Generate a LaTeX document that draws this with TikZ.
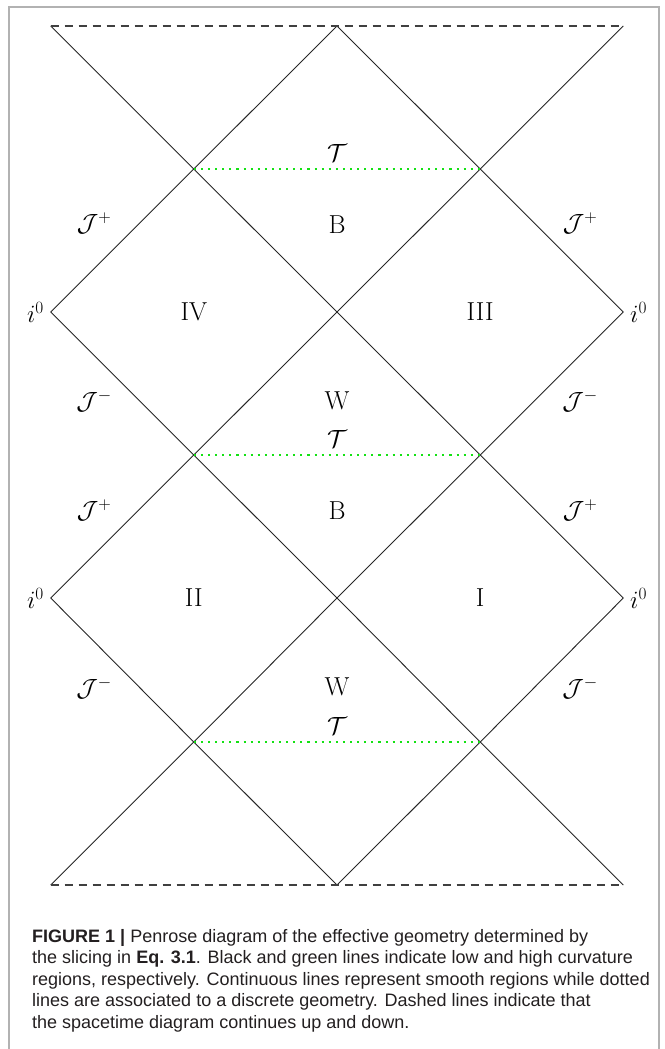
\documentclass[tikz,border=0pt]{standalone}
\usepackage{fontspec}
\newfontfamily\capfont{Liberation Sans}
\usetikzlibrary{positioning, calc}
\definecolor{slicegreen}{RGB}{20,225,20}
\definecolor{framegray}{RGB}{178,178,178}
\definecolor{captext}{RGB}{35,31,32}

\begin{document}
\begin{tikzpicture}[x=1pt, y=-1pt,
  horizon/.style={line width=0.9pt, black!85},
  slice/.style={slicegreen, line width=2.1pt, dash pattern=on 2.1pt off 5pt},
  edge/.style={line width=1.1pt, black!75, dash pattern=on 8pt off 6pt},
  region/.style={font=\fontsize{26}{29}\selectfont},
  scri/.style={font=\fontsize{26}{29}\selectfont}
]
  \useasboundingbox (0,0) rectangle (664,1049);
  \draw[framegray, line width=1.5pt] (9,1049) -- (9,7) -- (659,7) -- (659,1049);

  % vertices of the diagram
  \coordinate (tl) at (50.7,26);   \coordinate (tc) at (337,26);   \coordinate (tr) at (623.3,26);
  \coordinate (s1l) at (193.8,169); \coordinate (s1r) at (480.2,169);
  \coordinate (il1) at (50.7,312); \coordinate (c1) at (337,312); \coordinate (ir1) at (623.3,312);
  \coordinate (s2l) at (193.8,455); \coordinate (s2r) at (480.2,455);
  \coordinate (il2) at (50.7,598); \coordinate (c2) at (337,598); \coordinate (ir2) at (623.3,598);
  \coordinate (s3l) at (193.8,742); \coordinate (s3r) at (480.2,742);
  \coordinate (bl) at (50.7,885);  \coordinate (bc) at (337,885);  \coordinate (br) at (623.3,885);

  % null lines
  \draw[horizon] (tl) -- (s1l) -- (c1) -- (s2r) -- (ir2);
  \draw[horizon] (tr) -- (s1r) -- (c1) -- (s2l) -- (il2);
  \draw[horizon] (il1) -- (s1l) -- (tc) -- (s1r) -- (ir1);
  \draw[horizon] (il1) -- (s2l) -- (c2) -- (s3r) -- (br);
  \draw[horizon] (ir1) -- (s2r) -- (c2) -- (s3l) -- (bl);
  \draw[horizon] (il2) -- (s3l) -- (bc) -- (s3r) -- (ir2);

  % continuation
  \draw[edge] (tl) -- (tc) -- (tr);
  \draw[edge] (bl) -- (bc) -- (br);

  % high curvature slices
  \foreach \k in {1,2,3}{
    \draw[slice] (s\k l) -- (s\k r);
    \node[region] (T\k) at ($(s\k l)!0.5!(s\k r)+(0,-16)$) {$\mathcal{T}$};
  }

  \node[region] (B1) at (337,225) {B};
  \node[region] (W1) at (337,401) {W};
  \node[region] (B2) at (337,511) {B};
  \node[region] (W2) at (337,687) {W};
  \node[region] (r4) at (193.8,312) {IV};
  \node[region] (r3) at (480.2,312) {III};
  \node[region] (r2) at (193.8,598) {II};
  \node[region] (r1) at (480.2,598) {I};

  \foreach \y/\n in {312/1,598/2}{
    \node[scri, anchor=east, inner xsep=0pt] (iL\n) at (44,\y) {$i^0$};
    \node[scri, anchor=west, inner xsep=0pt] (iR\n) at (630,\y) {$i^0$};
  }
  \foreach \y/\n in {223/1,510/2}{
    \node[scri] (JpL\n) at (94,\y) {$\mathcal{J}^+$};
    \node[scri] (JpR\n) at (580,\y) {$\mathcal{J}^+$};
    \node[scri] (JmL\n) at (94,\y+178) {$\mathcal{J}^-$};
    \node[scri] (JmR\n) at (580,\y+178) {$\mathcal{J}^-$};
  }

  \node[anchor=north west, inner sep=0pt, align=left, text=captext,
    font=\capfont\fontsize{18}{21.5}\selectfont] (cap) at (32,929)
    {\textbf{FIGURE 1 |} Penrose diagram of the effective geometry determined by\\
     the slicing in \textbf{Eq. 3.1}. Black and green lines indicate low and high curvature\\
     regions, respectively. Continuous lines represent smooth regions while dotted\\
     lines are associated to a discrete geometry. Dashed lines indicate that\\
     the spacetime diagram continues up and down.};
\end{tikzpicture}
\end{document}
